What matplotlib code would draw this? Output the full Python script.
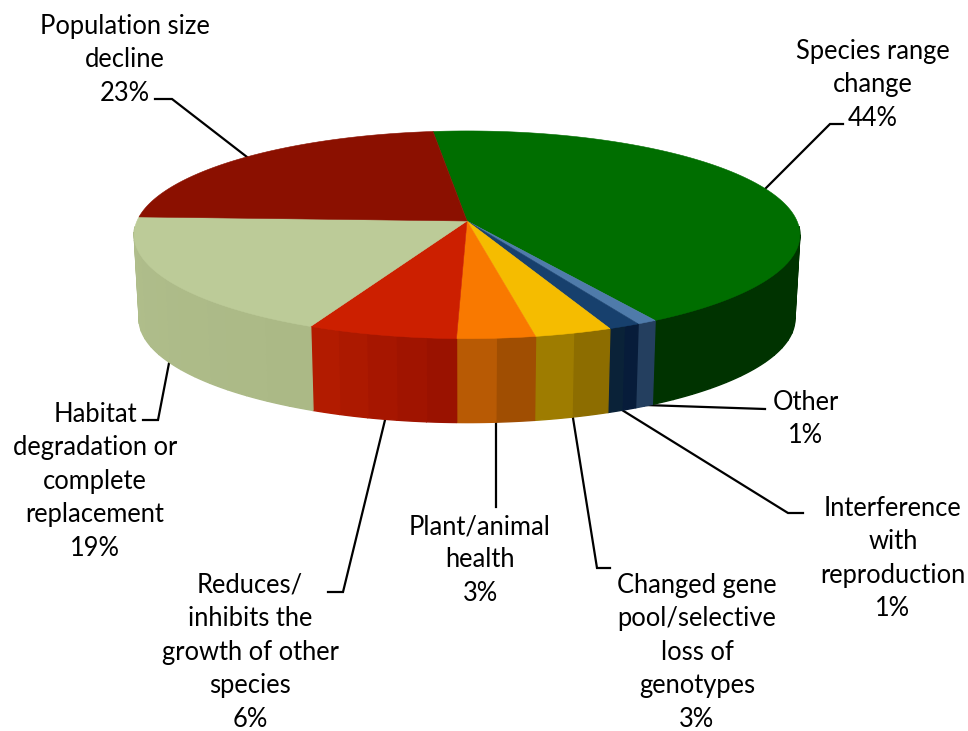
import numpy as np
import matplotlib
matplotlib.use("Agg")
import matplotlib.pyplot as plt
from matplotlib.colors import to_rgb

plt.rcParams['font.family'] = ['Lato', 'DejaVu Sans']

# slices, clockwise from the top. shares are read off the drawn angles,
# percents are what the labels say
names = ["Species range\nchange", "Other", "Interference\nwith\nreproduction",
         "Changed gene\npool/selective\nloss of\ngenotypes", "Plant/animal\nhealth",
         "Reduces/\ninhibits the\ngrowth of other\nspecies",
         "Habitat\ndegradation or\ncomplete\nreplacement", "Population size\ndecline"]
percents = [44, 1, 1, 3, 3, 6, 19, 23]
shares = [43.44, 0.86, 1.36, 3.31, 3.33, 6.4, 18.8, 22.5]
top_colors = ["#006E00", "#4F7BAA", "#17406D", "#F5BC00", "#F97900", "#CC1F00", "#BCCB98", "#8B1000"]
side_left = ["#003300", "#243F5F", "#0A2238", "#9E7C00", "#B85A04", "#B21B00", "#B0BE8C", "#5E0A00"]
side_right = ["#003300", "#243F5F", "#071C3A", "#8D6D00", "#A04E02", "#9A1200", "#ABB986", "#5E0A00"]

# label centre x, first line y, leader line
label_x = [873, 806, 893, 697, 480, 250, 95, 125]
label_y = [50, 401, 507, 584, 525, 584, 413, 25]
leaders = [[(765, 189), (830, 124), (843, 124)],
           [(645, 405), (765, 409)],
           [(622, 410), (788, 513), (803, 513)],
           [(573, 418), (597, 568), (610, 568)],
           [(496, 423), (496, 507)],
           [(385, 420), (343, 592), (328, 592)],
           [(170, 358), (158, 420), (143, 420)],
           [(247, 157), (172, 99), (155, 99)]]

cx, cy = 467, 221
rx, ry, tilt = 330, 102, 0.1327
depth, shrink = 84, 0.985
start = -6.7


def rim(a):
    # circle seen in perspective, a in degrees clockwise from the back
    a = np.radians(a)
    X, Y = np.sin(a), -np.cos(a)
    w = 1 - tilt * Y
    return rx * X / w, ry * Y / w


fig = plt.figure(figsize=(9.68, 7.31), dpi=100)
ax = fig.add_axes([0, 0, 1, 1])
ax.set_xlim(0, 968)
ax.set_ylim(731, 0)
ax.axis('off')

edges = start + 3.6 * np.concatenate([[0], np.cumsum(shares)])

# side wall first, in coarse strips so it has the banding of the original
for i in range(len(shares)):
    n = max(2, int((edges[i+1] - edges[i]) / 4))
    steps = np.linspace(edges[i], edges[i+1], n + 1)
    c0, c1 = np.array(to_rgb(side_right[i])), np.array(to_rgb(side_left[i]))
    for j in range(n):
        aa = np.linspace(steps[j], steps[j+1], 8)
        aa = aa[np.cos(np.radians(aa)) < -0.05]  # back of the wall is hidden
        if len(aa) < 2:
            continue
        dx, dy = rim(aa)
        xs = np.concatenate([cx + dx, (cx + shrink * dx)[::-1]])
        ys = np.concatenate([cy + dy, (cy + dy + depth)[::-1]])
        col = c0 + (c1 - c0) * j / max(n - 1, 1)
        ax.fill(xs, ys, color=col, lw=1.0, zorder=2)

# top face
for i in range(len(shares)):
    aa = np.linspace(edges[i], edges[i+1], 120)
    dx, dy = rim(aa)
    ax.fill(np.r_[cx, cx + dx], np.r_[cy, cy + dy], color=top_colors[i], lw=0.4, zorder=3)

for i in range(len(names)):
    pts = np.array(leaders[i])
    ax.plot(pts[:, 0], pts[:, 1], color='black', lw=1.6, zorder=1, solid_joinstyle='miter')
    ax.text(label_x[i], label_y[i] - 11, "%s\n%d%%" % (names[i], percents[i]), ha='center', va='top',
            fontsize=18.4, linespacing=1.42, color='black', zorder=4)

fig.savefig("out.png", dpi=100)
